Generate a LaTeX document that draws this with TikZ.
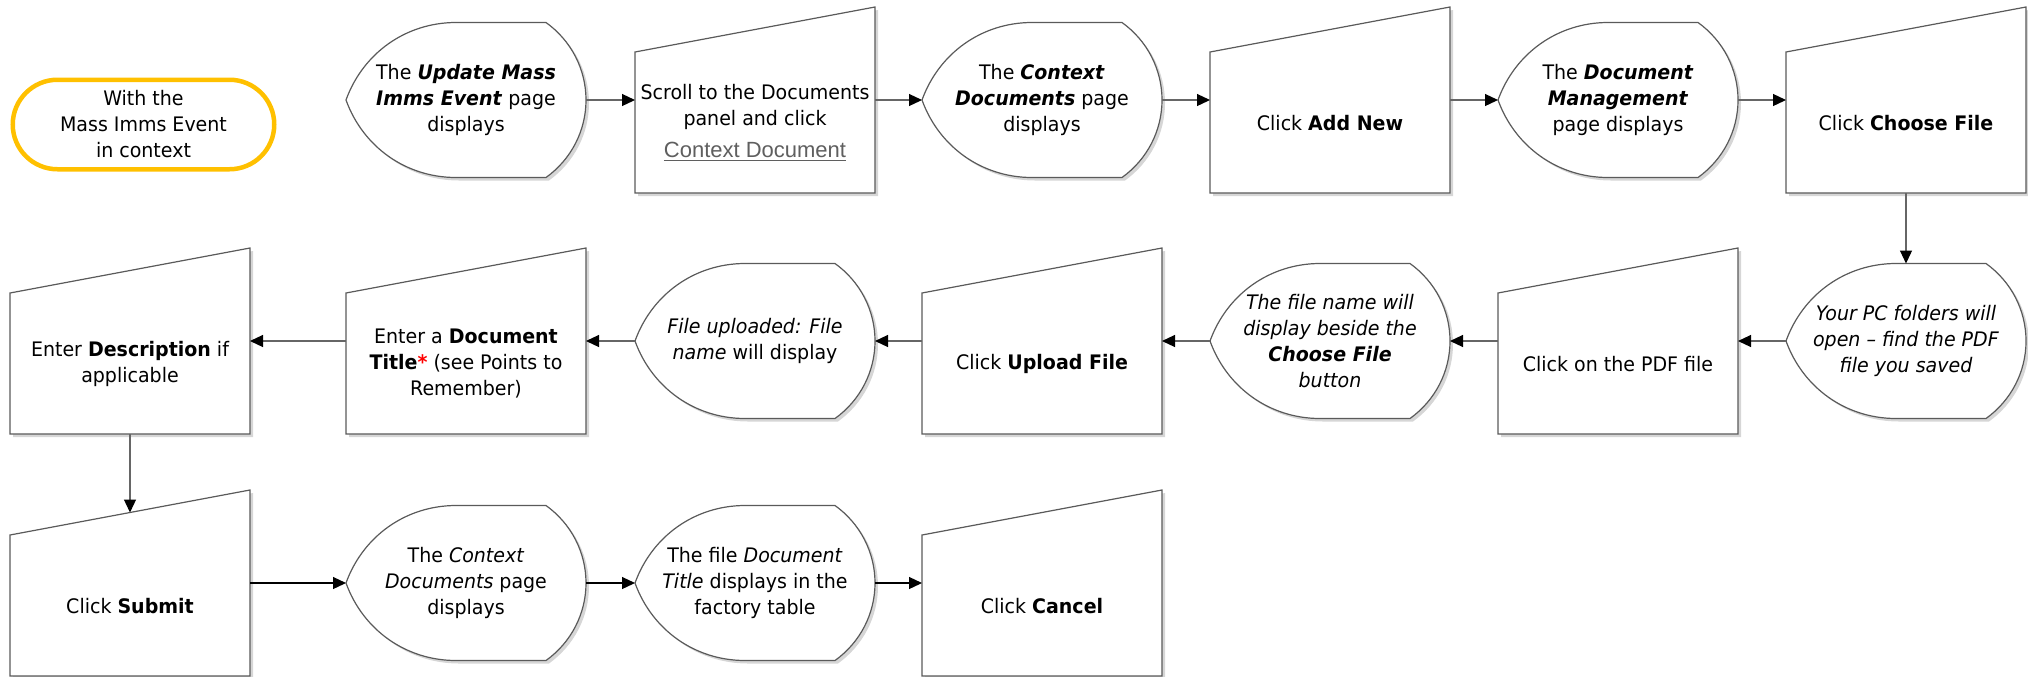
\documentclass[tikz,border=0pt]{standalone}
\usepackage{fontspec}
\setmainfont{DejaVu Sans}[FakeStretch=0.95]
\newfontfamily\linkfont{Liberation Sans}
\usetikzlibrary{arrows.meta,shapes.misc}
\definecolor{termcol}{HTML}{FFC000}
\definecolor{edgecol}{HTML}{5A5A5A}
\definecolor{shadcol}{HTML}{D6D6D6}
\definecolor{linecol}{HTML}{666666}
\definecolor{linkcol}{HTML}{5F5F5F}
\pgfdeclarelayer{bg}
\pgfsetlayers{bg,main}
\newcommand\bi[1]{\textbf{\textit{#1}}}
\newcommand\manpath[3]{([shift={(#2,#3)}]#1.south west) -- ([shift={(#2,45+#3)}]#1.north west) -- ([shift={(#2,#3)}]#1.north east) -- ([shift={(#2,#3)}]#1.south east) -- cycle}
\newcommand\dispath[3]{([shift={(#2,#3)}]#1.west)
 .. controls ([shift={(17+#2,-47+#3)}]#1.west) and ([shift={(60+#2,#3)}]#1.north west) .. ([shift={(110+#2,#3)}]#1.north west)
 -- ([shift={(-40+#2,#3)}]#1.north east)
 .. controls ([shift={(-15+#2,18+#3)}]#1.north east) and ([shift={(#2,-31+#3)}]#1.east) .. ([shift={(#2,#3)}]#1.east)
 .. controls ([shift={(#2,31+#3)}]#1.east) and ([shift={(-15+#2,-18+#3)}]#1.south east) .. ([shift={(-40+#2,#3)}]#1.south east)
 -- ([shift={(110+#2,#3)}]#1.south west)
 .. controls ([shift={(60+#2,#3)}]#1.south west) and ([shift={(17+#2,47+#3)}]#1.west) .. ([shift={(#2,#3)}]#1.west) -- cycle}
\tikzset{
  txt/.style={font=\fontsize{10pt}{13pt}\selectfont, align=center, text=black},
  shp/.style={draw=edgecol, line width=0.6pt, fill=white},
  shd/.style={fill=shadcol, draw=none},
  disp/.style={txt, minimum width=120pt, minimum height=77.5pt, inner sep=0pt, outer sep=0pt},
  manual/.style={txt, minimum width=120pt, minimum height=93pt, inner sep=0pt, outer sep=0pt},
  mlab/.style={txt, yshift=-11.5pt},
  term/.style={txt, rounded rectangle, draw=termcol, line width=2.25pt, minimum width=130.75pt, minimum height=44.75pt, inner sep=0pt},
  arr/.style={draw=linecol, line width=0.6pt, -{Triangle[length=6.5pt,width=6pt,color=black]}},
  arrk/.style={arr, draw=black},
}
\begin{document}
\begin{tikzpicture}[x=0.5pt,y=-0.5pt]
\useasboundingbox (0,0) rectangle (2028,676);
% row 1
\node[term] (start) at (143.5,124.5) {With the\\Mass Imms Event\\in context};
\node[disp] (d1) at (466,100) {The \bi{Update Mass}\\\bi{Imms Event} page\\displays};
\node[manual, label={[mlab,name=m2t]center:{Scroll to the Documents\\panel and click\\[3pt]{\linkfont\fontsize{11pt}{13pt}\selectfont\color{linkcol}\underline{Context Document}}}}] (m2) at (755,100) {};
\node[disp] (d3) at (1042,100) {The \bi{Context}\\\bi{Documents} page\\displays};
\node[manual, label={[mlab,name=m4t]center:{Click \textbf{Add New}}}] (m4) at (1330,100) {};
\node[disp] (d5) at (1618,100) {The \bi{Document}\\\bi{Management}\\page displays};
\node[manual, label={[mlab,name=m6t]center:{Click \textbf{Choose File}}}] (m6) at (1906,100) {};
% row 2
\node[disp] (d8) at (1906,341) {\textit{Your PC folders will}\\\textit{open – find the PDF}\\\textit{file you saved}};
\node[manual, label={[mlab,name=m9t]center:{Click on the PDF file}}] (m9) at (1618,341) {};
\node[disp] (d10) at (1330,341) {\textit{The file name will}\\\textit{display beside the}\\\bi{Choose File}\\\textit{button}};
\node[manual, label={[mlab,name=m11t]center:{Click \textbf{Upload File}}}] (m11) at (1042,341) {};
\node[disp] (d12) at (755,341) {\textit{File uploaded: File}\\\textit{name} will display};
\node[manual, label={[mlab,name=m13t]center:{Enter a \textbf{Document}\\\textbf{Title}\textcolor{red}{\textbf{*}} (see Points to\\Remember)}}] (m13) at (466,341) {};
\node[manual, label={[mlab,name=m14t]center:{Enter \textbf{Description} if\\applicable}}] (m14) at (130,341) {};
% row 3
\node[manual, label={[mlab,name=m15t]center:{Click \textbf{Submit}}}] (m15) at (130,583) {};
\node[disp] (d16) at (466,583) {The \textit{Context}\\\textit{Documents} page\\displays};
\node[disp] (d17) at (755,583) {The file \textit{Document}\\\textit{Title} displays in the\\factory table};
\node[manual, label={[mlab,name=m18t]center:{Click \textbf{Cancel}}}] (m18) at (1042,583) {};
% shapes
\begin{pgfonlayer}{bg}
\foreach \n in {d1,d3,d5,d8,d10,d12,d16,d17}{
  \fill[shd] \dispath{\n}{3}{3};
  \draw[shp] \dispath{\n}{0}{0};
}
\foreach \n in {m2,m4,m6,m9,m11,m13,m14,m15,m18}{
  \fill[shd] \manpath{\n}{3}{3};
  \draw[shp] \manpath{\n}{0}{0};
}
\end{pgfonlayer}
% connectors
\draw[arr] (d1.east) -- (m2.west);
\draw[arr] (m2.east) -- (d3.west);
\draw[arr] (d3.east) -- (m4.west);
\draw[arr] (m4.east) -- (d5.west);
\draw[arr] (d5.east) -- (m6.west);
\draw[arr] (m6.south) -- (d8.north);
\draw[arr] (d8.west) -- (m9.east);
\draw[arr] (m9.west) -- (d10.east);
\draw[arr] (d10.west) -- (m11.east);
\draw[arr] (m11.west) -- (d12.east);
\draw[arr] (d12.west) -- (m13.east);
\draw[arr] (m13.west) -- (m14.east);
\draw[arr] (m14.south) -- ([yshift=-11.25pt]m15.north);
\draw[arrk] (m15.east) -- (d16.west);
\draw[arrk] (d16.east) -- (d17.west);
\draw[arrk] (d17.east) -- (m18.west);
\end{tikzpicture}
\end{document}
